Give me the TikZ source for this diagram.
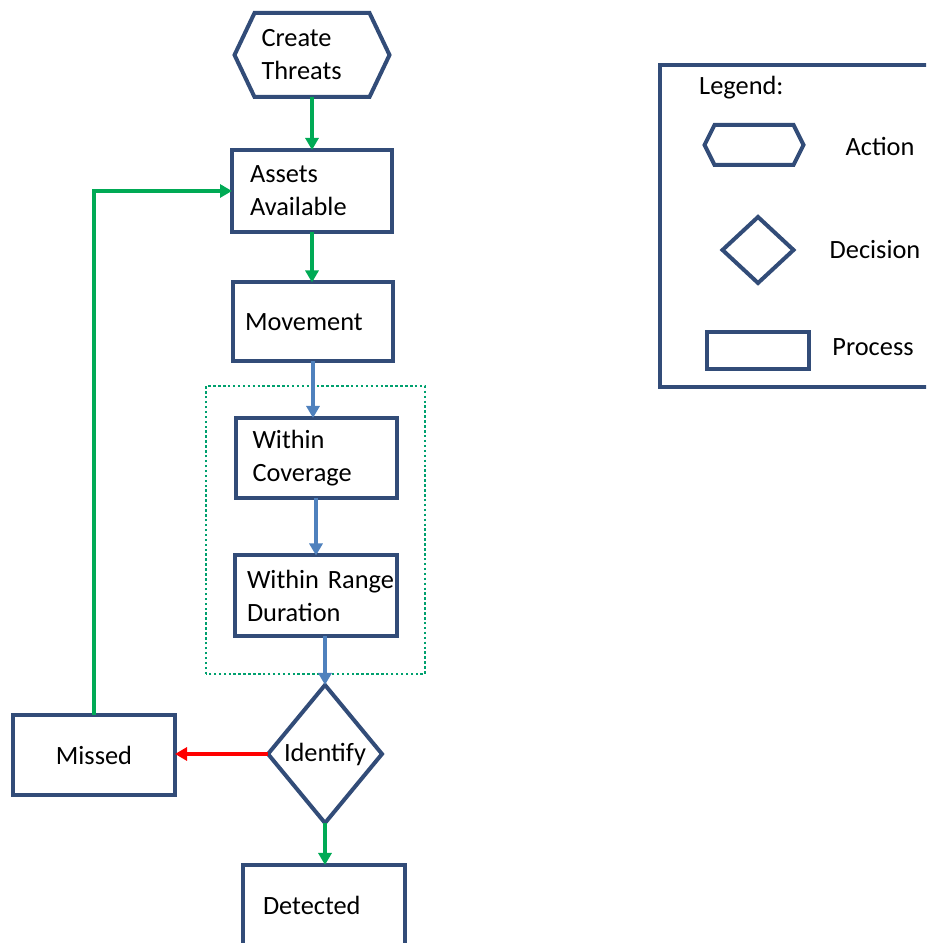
\documentclass[tikz,border=0pt]{standalone}
\usepackage{fontspec}
\setmainfont{Carlito}
\usetikzlibrary{shapes.geometric,arrows.meta}

\definecolor{navy}{RGB}{50,76,120}
\definecolor{flowgreen}{RGB}{0,170,85}
\definecolor{flowblue}{RGB}{79,129,189}
\definecolor{zonegreen}{RGB}{0,160,110}

% hexagon drawn round a plain node: #2 node name, #3 inset of the points
\newcommand{\drawhex}[3][]{%
    \draw[#1] (#2.west) -- ([xshift=#3]#2.north west) -- ([xshift=-#3]#2.north east)
        -- (#2.east) -- ([xshift=-#3]#2.south east) -- ([xshift=#3]#2.south west) -- cycle;}

\begin{document}
\begin{tikzpicture}[
    font=\fontsize{15}{18.8}\selectfont,
    procbox/.style={draw=navy, line width=0.08cm, align=left, minimum height=1.6cm, outer sep=0pt},
    ghost/.style={minimum height=1.68cm, outer sep=0pt, align=left},
    decide/.style={diamond, draw=navy, line width=0.08cm, inner sep=0pt, outer sep=0pt},
    hexline/.style={draw=navy, line width=0.08cm, line join=miter},
    flow/.style={line width=0.065cm, -{Triangle[length=0.24cm,width=0.26cm]}},
    zone/.style={draw=zonegreen, line width=0.05cm, dash pattern=on 1.4pt off 1.4pt}
    ]
    \useasboundingbox (0,0) rectangle (18.52,18.86);
    \clip (0,0) rectangle (18.52,18.86);

    % Main flow
    \node[ghost, text width=2.02cm, inner xsep=0.54cm] (create) at (6.24,17.76) {Create\\Threats};
    \drawhex[hexline]{create}{0.4cm}
    \node[procbox, minimum height=1.64cm, text width=2.48cm, inner xsep=0.36cm] (assets) at (6.24,15.04) {Assets\\Available};
    \node[procbox, minimum height=1.58cm, text width=2.72cm, inner xsep=0.24cm] (move) at (6.26,12.42) {Movement};

    % Coverage checks
    \draw[zone] (4.12,5.38) rectangle (8.50,11.14);
    \node[procbox, text width=2.54cm, inner xsep=0.34cm] (cover) at (6.32,9.70) {Within\\Coverage};
    \node[procbox, minimum height=1.62cm, text width=2.76cm, inner xsep=0.24cm] (range) at (6.32,6.94) {\mbox{Within Range}\\Duration};

    % Decision and outcomes
    \node[decide, minimum width=2.28cm, minimum height=2.76cm] (identify) at (6.50,3.78) {Identify};
    \node[procbox, align=center, minimum width=3.24cm] (missed) at (1.88,3.76) {Missed};
    \node[procbox, text width=2.44cm, inner xsep=0.40cm] (detected) at (6.48,0.76) {Detected};

    % Arrows
    \draw[flow, flowgreen] (create) -- (assets);
    \draw[flow, flowgreen] (assets) -- (assets |- move.north);
    \draw[flow, flowblue] (move) -- (move |- cover.north);
    \draw[flow, flowblue] (cover) -- (range);
    \draw[flow, flowblue] (range.south -| identify) -- (identify);
    \draw[flow, red] (identify) -- (identify -| missed.east);
    \draw[flow, flowgreen] (identify) -- (identify |- detected.north);
    \draw[flow, flowgreen] (missed) |- (assets);

    % Legend
    \node[procbox, minimum width=6cm, minimum height=6.44cm] (legend) at (16.2,14.34) {};
    \node[anchor=west] (legendtitle) at (13.86,17.10) {Legend:};
    \node[ghost, minimum width=1.98cm, minimum height=0.8cm] (actkey) at (15.08,15.96) {};
    \drawhex[hexline]{actkey}{0.2cm}
    \node (acttext) at (17.6,15.92) {Action};
    \node[decide, minimum width=1.42cm, minimum height=1.32cm] (deckey) at (15.16,13.86) {};
    \node (dectext) at (17.5,13.86) {Decision};
    \node[procbox, minimum width=2.04cm, minimum height=0.74cm] (prockey) at (15.16,11.84) {};
    \node (proctext) at (17.46,11.92) {Process};
\end{tikzpicture}
\end{document}
